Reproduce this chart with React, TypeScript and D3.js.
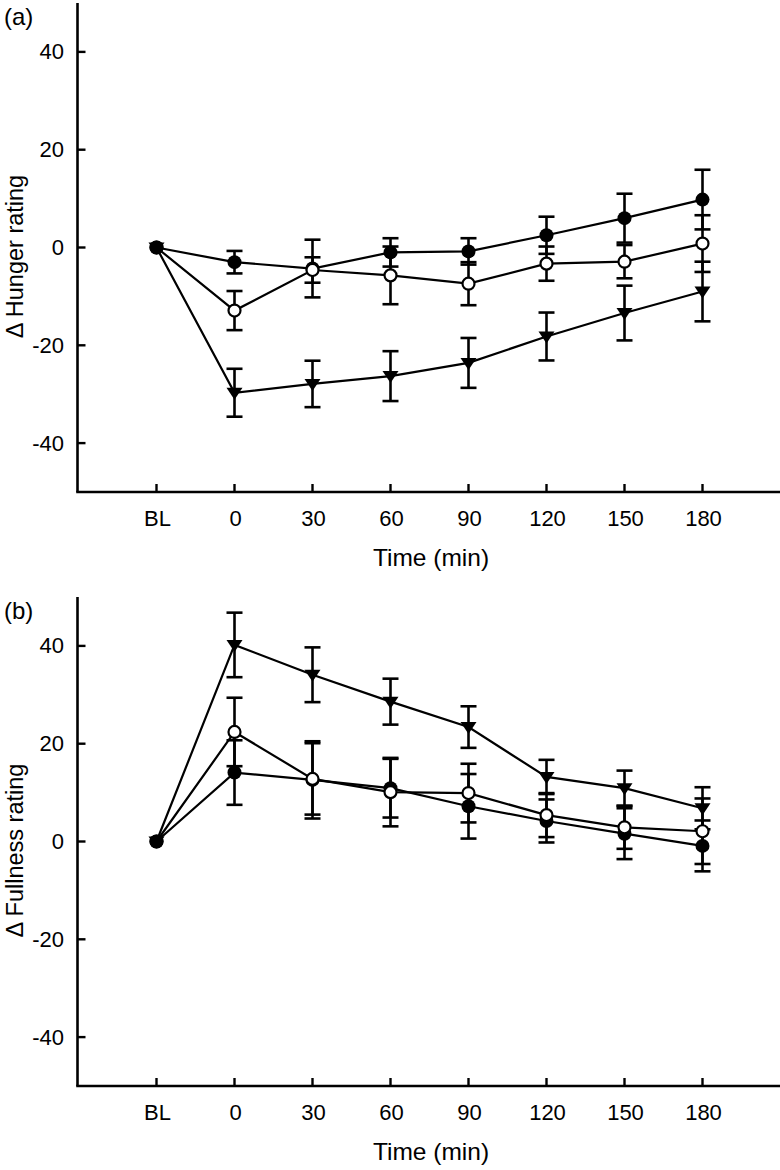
import React from "react";
import * as d3 from "d3";

const categories = ["BL", "0", "30", "60", "90", "120", "150", "180"];
const yTicks = [40, 20, 0, -20, -40];

// Panel (a) Hunger
const hungerFilled = [0, -3.0, -4.3, -1.0, -0.8, 2.5, 6.0, 9.8];
const hungerFilledErr = [0, 2.3, 5.9, 2.9, 2.7, 3.8, 5.0, 6.1];
const hungerOpen = [0, -12.9, -4.6, -5.7, -7.4, -3.3, -2.9, 0.8];
const hungerOpenErr = [0, 4.0, 2.6, 5.9, 4.4, 3.5, 3.4, 5.8];
const hungerTri = [0, -29.7, -27.9, -26.3, -23.6, -18.2, -13.4, -9.0];
const hungerTriErr = [0, 4.9, 4.75, 5.1, 5.1, 4.9, 5.6, 6.1];

// Panel (b) Fullness
const fullFilled = [0, 14.1, 12.6, 10.9, 7.2, 4.2, 1.6, -0.9];
const fullFilledErr = [0, 6.6, 7.9, 6.0, 6.6, 4.4, 5.2, 5.2];
const fullOpen = [0, 22.4, 12.8, 10.1, 9.9, 5.4, 2.9, 2.1];
const fullOpenErr = [0, 7.0, 7.3, 7.0, 6.0, 4.5, 4.4, 6.7];
const fullTri = [0, 40.2, 34.1, 28.6, 23.4, 13.2, 10.9, 6.8];
const fullTriErr = [0, 6.6, 5.6, 4.7, 4.25, 3.5, 3.6, 4.3];

const FONT = "'Liberation Sans', Arial, Helvetica, sans-serif";

type Series = { kind: "filled" | "open" | "tri"; values: number[]; errs: number[] };

function Panel({
  top,
  bottom,
  label,
  yTitle,
  series,
}: {
  top: number;
  bottom: number;
  label: string;
  yTitle: string;
  series: Series[];
}) {
  const x = d3.scalePoint<string>().domain(categories).range([156.5, 702.5]);
  const y = d3.scaleLinear().domain([-50, 50]).range([bottom, top]);
  const axisX = 77.5;
  const axisRight = 780;
  const line = d3
    .line<number>()
    .x((_, i) => x(categories[i])!)
    .y((d) => y(d));

  const marker = (kind: string, cx: number, cy: number, key: string) => {
    if (kind === "filled") return <circle key={key} cx={cx} cy={cy} r={7} fill="#000" />;
    if (kind === "open")
      return <circle key={key} cx={cx} cy={cy} r={6} fill="#fff" stroke="#000" strokeWidth={2.2} />;
    const p = d3.path();
    p.moveTo(cx - 8, cy - 5);
    p.lineTo(cx + 8, cy - 5);
    p.lineTo(cx, cy + 7);
    p.closePath();
    return <path key={key} d={p.toString()} fill="#000" />;
  };

  const drawOrder = ["tri", "filled", "open"];
  const blOrder = ["open", "tri", "filled"];
  const midY = y(0) + 9;

  return (
    <g fontFamily={FONT}>
      <text x={4} y={top + 21.5} fontSize={24} fill="#000">
        {label}
      </text>
      {/* axes */}
      <line x1={axisX} x2={axisX} y1={y(50)} y2={y(-50)} stroke="#000" strokeWidth={2.6} />
      <line x1={axisX - 1.3} x2={axisRight} y1={y(-50)} y2={y(-50)} stroke="#000" strokeWidth={2.6} />
      {yTicks.map((t) => (
        <g key={t}>
          <line x1={axisX} x2={axisX + 8} y1={y(t)} y2={y(t)} stroke="#000" strokeWidth={2.4} />
          <text x={64} y={y(t) + 7.5} textAnchor="end" fontSize={22} fill="#000">
            {t}
          </text>
        </g>
      ))}
      {categories.map((c) => (
        <g key={c}>
          <line x1={x(c)} x2={x(c)} y1={y(-50)} y2={y(-50) - 8} stroke="#000" strokeWidth={2.4} />
          <text x={x(c)! + 1} y={y(-50) + 34} textAnchor="middle" fontSize={22} fill="#000">
            {c}
          </text>
        </g>
      ))}
      <text x={431} y={y(-50) + 74} textAnchor="middle" fontSize={24.5} fill="#000">
        Time (min)
      </text>
      <text
        transform={`translate(22.7, ${midY}) rotate(-90)`}
        textAnchor="middle"
        fontSize={23.5}
        fill="#000"
      >
        {yTitle}
      </text>
      {/* error bars */}
      {series.map((s, si) =>
        s.values.map((v, i) => {
          const e = s.errs[i];
          if (!e) return null;
          const cx = x(categories[i])!;
          return (
            <g key={`e${si}-${i}`} stroke="#000" strokeWidth={2.6}>
              <line x1={cx} x2={cx} y1={y(v + e)} y2={y(v - e)} />
              <line x1={cx - 8} x2={cx + 8} y1={y(v + e)} y2={y(v + e)} />
              <line x1={cx - 8} x2={cx + 8} y1={y(v - e)} y2={y(v - e)} />
            </g>
          );
        })
      )}
      {/* lines */}
      {series.map((s, si) => (
        <path key={`l${si}`} d={line(s.values)!} fill="none" stroke="#000" strokeWidth={2.2} />
      ))}
      {/* markers */}
      {drawOrder.map((k) =>
        series
          .filter((s) => s.kind === k)
          .map((s) =>
            s.values.map((v, i) => (i === 0 ? null : marker(k, x(categories[i])!, y(v), `${k}-${i}`)))
          )
      )}
      {blOrder.map((k) =>
        series
          .filter((s) => s.kind === k)
          .map((s) => marker(k, x(categories[0])!, y(s.values[0]), `${k}-bl`))
      )}
    </g>
  );
}

export default function App() {
  return (
    <svg
      width={780}
      height={1170}
      style={{ position: "absolute", left: 0, top: 0, background: "#fff" }}
    >
      <rect width={780} height={1170} fill="#fff" />
      <Panel
        top={3}
        bottom={492}
        label="(a)"
        yTitle="Δ Hunger rating"
        series={[
          { kind: "tri", values: hungerTri, errs: hungerTriErr },
          { kind: "open", values: hungerOpen, errs: hungerOpenErr },
          { kind: "filled", values: hungerFilled, errs: hungerFilledErr },
        ]}
      />
      <Panel
        top={597}
        bottom={1086}
        label="(b)"
        yTitle="Δ Fullness rating"
        series={[
          { kind: "tri", values: fullTri, errs: fullTriErr },
          { kind: "open", values: fullOpen, errs: fullOpenErr },
          { kind: "filled", values: fullFilled, errs: fullFilledErr },
        ]}
      />
    </svg>
  );
}
